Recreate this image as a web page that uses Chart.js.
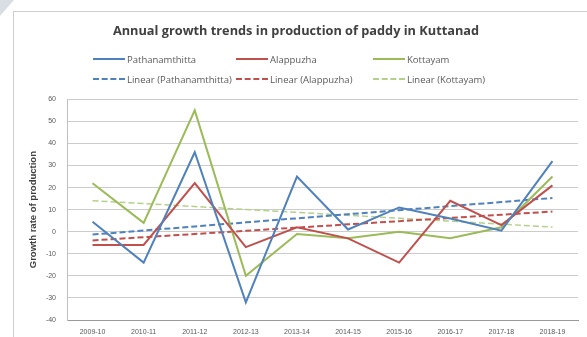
<!DOCTYPE html>
<html>
<head>
<meta charset="utf-8">
<script src="https://cdn.jsdelivr.net/npm/chart.js@4"></script>
<style>
  html, body { margin: 0; padding: 0; background: #fff; }
  body { width: 587px; height: 337px; position: relative; overflow: hidden; font-family: "Open Sans", "Liberation Sans", sans-serif; }
  .corner { position: absolute; left: 0; top: 0; width: 14px; height: 16px; background: #d9dee4; clip-path: polygon(0 0, 100% 0, 0 100%); }
  .frame { position: absolute; left: 13px; top: 11px; width: 574px; height: 326px; border-left: 1px solid #cfcfcf; border-top: 1px solid #cfcfcf; }
  .frame canvas { position: absolute; left: 0; top: 0; }
  .legend { position: absolute; left: 79px; top: 41px; display: grid; grid-template-columns: 143px 137px 150px; row-gap: 8px; font-size: 9.5px; color: #595959; }
  .legend-item { display: flex; align-items: center; height: 12px; white-space: nowrap; }
  .legend-item i { display: inline-block; width: 32px; height: 0; margin-right: 2px; border-top-width: 2px; }
</style>
</head>
<body>
<div class="corner"></div>
<div class="frame">
  <canvas id="growth" width="574" height="326"></canvas>
  <div class="legend" id="legend"></div>
</div>
<script>
const years = ['2009-10', '2010-11', '2011-12', '2012-13', '2013-14', '2014-15', '2015-16', '2016-17', '2017-18', '2018-19'];
const pathanamthitta = [4.5, -14, 36, -32, 25, 1, 11, 6, 0.5, 32];
const alappuzha = [-6, -6, 22, -7, 2, -3, -14, 14, 3, 21];
const kottayam = [22, 4, 55, -20, -1, -3, 0, -3, 2, 25];

const colors = {
  pathanamthitta: '#4f81bd',
  alappuzha: '#c0504d',
  kottayam: '#9bbb59',
};

// least squares fit, same as the "Linear" trendline in a spreadsheet
function linearTrend(values) {
  const n = values.length;
  const meanX = (n - 1) / 2;
  const meanY = values.reduce((a, b) => a + b, 0) / n;
  let sxy = 0;
  let sxx = 0;
  values.forEach((y, x) => {
    sxy += (x - meanX) * (y - meanY);
    sxx += (x - meanX) * (x - meanX);
  });
  const slope = sxy / sxx;
  return values.map((_, x) => +(meanY + slope * (x - meanX)).toFixed(2));
}

function series(label, data, color) {
  return { label, data, borderColor: color, backgroundColor: color, borderWidth: 2, pointRadius: 0, tension: 0 };
}

function trend(label, data, color) {
  return Object.assign(series(label, linearTrend(data), color), { borderDash: [6, 3] });
}

const datasets = [
  series('Pathanamthitta', pathanamthitta, colors.pathanamthitta),
  series('Alappuzha', alappuzha, colors.alappuzha),
  series('Kottayam', kottayam, colors.kottayam),
  trend('Linear (Pathanamthitta)', pathanamthitta, colors.pathanamthitta),
  trend('Linear (Alappuzha)', alappuzha, colors.alappuzha),
  trend('Linear (Kottayam)', kottayam, colors.kottayam),
];
datasets[5].borderWidth = 1.5;
datasets[5].borderColor = '#b5d08a';

const chart = new Chart(document.getElementById('growth'), {
  type: 'line',
  data: { labels: years, datasets },
  options: {
    responsive: false,
    animation: false,
    layout: { padding: { top: 0, right: 10, bottom: 0, left: 0 } },
    plugins: {
      legend: { display: false },
      tooltip: { enabled: false },
      title: {
        display: true,
        text: 'Annual growth trends in production of paddy in Kuttanad',
        color: '#404040',
        font: { family: '"Open Sans", sans-serif', size: 12.75, weight: 'bold' },
        padding: { top: 12, bottom: 60 },
      },
    },
    scales: {
      x: {
        offset: true,
        grid: { display: false, drawTicks: false },
        border: { color: '#9a9a9a', width: 1 },
        ticks: { color: '#595959', font: { size: 7 }, maxRotation: 0, padding: 8 },
        afterFit: s => { s.height = 18; },
      },
      y: {
        min: -40,
        max: 60,
        ticks: { stepSize: 10, color: '#595959', font: { size: 7 }, padding: 11 },
        grid: { color: '#cccccc', drawTicks: false },
        border: { color: '#c0c0c0' },
        title: {
          display: true,
          text: 'Growth rate of production',
          color: '#404040',
          font: { size: 9.5, weight: 'bold' },
          padding: { top: 14, bottom: 0 },
        },
        afterFit: s => { s.width = 53; },
      },
    },
  },
});

// two-row legend, three columns, built from the chart's datasets
const legendEl = document.getElementById('legend');
chart.data.datasets.forEach(ds => {
  const item = document.createElement('div');
  item.className = 'legend-item';
  const swatch = document.createElement('i');
  swatch.style.borderTopStyle = ds.borderDash ? 'dashed' : 'solid';
  swatch.style.borderTopColor = ds.borderColor;
  item.appendChild(swatch);
  item.appendChild(document.createTextNode(ds.label));
  legendEl.appendChild(item);
});
</script>
</body>
</html>
